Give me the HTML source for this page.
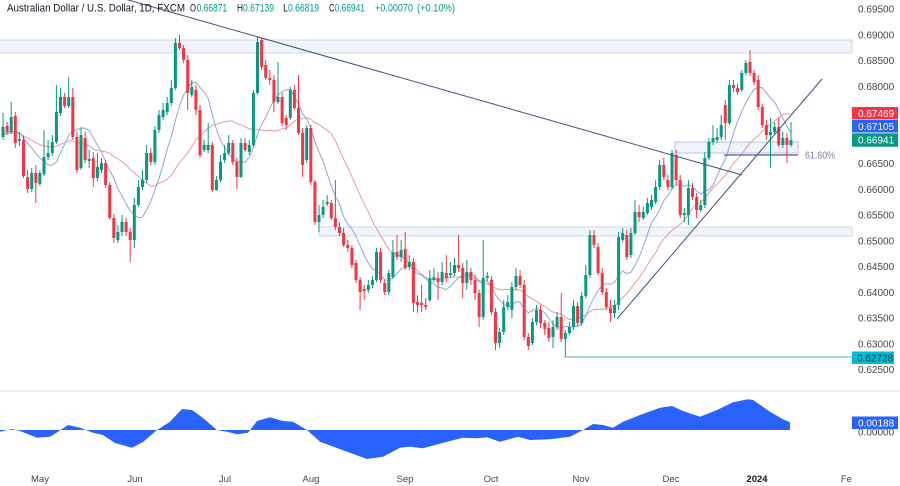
<!DOCTYPE html>
<html>
<head>
<meta charset="utf-8">
<style>
html,body{margin:0;padding:0;background:#fff;}
#wrap{position:relative;width:900px;height:486px;overflow:hidden;background:#fff;font-family:"Liberation Sans",sans-serif;}
svg{position:absolute;left:0;top:0;}
</style>
</head>
<body>
<div id="wrap">
<svg id="s" width="900" height="486" viewBox="0 0 900 486" xmlns="http://www.w3.org/2000/svg">
  <defs>
    <clipPath id="cp"><rect x="0" y="0" width="852" height="390"/></clipPath>
    <clipPath id="cpx"><rect x="0" y="392" width="852" height="94"/></clipPath>
  </defs>
  <g id="zones">
    <rect x="-1" y="40" width="853" height="13" fill="#f1f4fb" stroke="#cfd7e6" stroke-width="1"/>
    <rect x="319" y="227" width="533" height="9" fill="#f1f4fb" stroke="#cfd7e6" stroke-width="1"/>
    <rect x="675" y="142" width="123" height="11" fill="#eaf0fb" fill-opacity="0.8" stroke="#b9c6e2" stroke-width="1"/>
  </g>
  <g id="chart" clip-path="url(#cp)"></g>
  <g id="over" clip-path="url(#cp)">
    <line x1="125" y1="-1" x2="742" y2="175" stroke="#3f5384" stroke-width="1"/>
    <line x1="617" y1="319" x2="822" y2="79" stroke="#3f5384" stroke-width="1"/>
    <line x1="724" y1="155" x2="798" y2="155" stroke="#5b5598" stroke-width="1.2"/>
    <line x1="565" y1="357" x2="852" y2="357" stroke="#5ab5b8" stroke-width="1"/>
  </g>
  <text x="805" y="158.5" font-size="10" fill="#8576b3" font-family="Liberation Sans, sans-serif" textLength="30" lengthAdjust="spacingAndGlyphs">61.80%</text>
  <line x1="0" y1="391" x2="900" y2="391" stroke="#e0e3eb" stroke-width="1"/>
  <path id="osc" fill="#2962ff" d=""/>
  <g id="axis" font-family="Liberation Sans, sans-serif" font-size="10" fill="#434651"></g>
  <g id="labels" font-family="Liberation Sans, sans-serif" font-size="10">
    <text x="858" y="435.5" fill="#434651">0.00000</text>
    <rect x="852" y="107" width="46" height="12.5" fill="#f23645"/>
    <text x="858" y="117" fill="#fff">0.67469</text>
    <rect x="852" y="120" width="46" height="12.5" fill="#2962ff"/>
    <text x="858" y="130" fill="#fff">0.67105</text>
    <rect x="852" y="133.3" width="46" height="13.4" fill="#089981"/>
    <text x="858" y="143.5" fill="#fff">0.66941</text>
    <rect x="852" y="351.5" width="42" height="12.5" fill="#00bcd4"/>
    <text x="857" y="361.3" fill="#0d3b40">0.62728</text>
    <rect x="852" y="416.5" width="46" height="12.5" fill="#2962ff"/>
    <text x="858" y="426.3" fill="#fff">0.00188</text>
  </g>
  <g id="months" font-family="Liberation Sans, sans-serif" font-size="9.5" fill="#434651" text-anchor="middle" clip-path="url(#cpx)">
    <text x="40" y="482">May</text>
    <text x="135" y="482">Jun</text>
    <text x="225" y="482">Jul</text>
    <text x="311" y="482">Aug</text>
    <text x="405" y="482">Sep</text>
    <text x="491" y="482">Oct</text>
    <text x="581" y="482">Nov</text>
    <text x="671" y="482">Dec</text>
    <text x="757" y="482" font-weight="bold" fill="#131722">2024</text>
    <text x="849" y="482">Feb</text>
  </g>
  <g id="hdr" font-family="Liberation Sans, sans-serif" font-size="11" fill="#131722">
    <text x="7" y="11.7" textLength="178" lengthAdjust="spacingAndGlyphs">Australian Dollar / U.S. Dollar, 1D, FXCM</text>
    <text x="190" y="11.7" textLength="6" lengthAdjust="spacingAndGlyphs">O</text>
    <text x="196.7" y="11.7" fill="#089981" textLength="30.5" lengthAdjust="spacingAndGlyphs">0.66871</text>
    <text x="237" y="11.7" textLength="6" lengthAdjust="spacingAndGlyphs">H</text>
    <text x="243" y="11.7" fill="#089981" textLength="31" lengthAdjust="spacingAndGlyphs">0.67139</text>
    <text x="283" y="11.7" textLength="5" lengthAdjust="spacingAndGlyphs">L</text>
    <text x="288" y="11.7" fill="#089981" textLength="31" lengthAdjust="spacingAndGlyphs">0.66819</text>
    <text x="329" y="11.7" textLength="5.5" lengthAdjust="spacingAndGlyphs">C</text>
    <text x="334.5" y="11.7" fill="#089981" textLength="30.5" lengthAdjust="spacingAndGlyphs">0.66941</text>
    <text x="375" y="11.7" fill="#089981" textLength="38" lengthAdjust="spacingAndGlyphs">+0.00070</text>
    <text x="417" y="11.7" fill="#089981" textLength="38" lengthAdjust="spacingAndGlyphs">(+0.10%)</text>
  </g>
</svg>
</div>
<script>
(function(){
var NS="http://www.w3.org/2000/svg";
var D="g 127 137 113 140|r 126 132 122 135|g 117 132 102 134|r 116 143 112 148|g 139 141 132 146|r 140 176 136 178|r 177 189 170 193|g 173 189 168 192|r 173 183 165 203|g 173 184 170 186|"+
"g 157 174 130 176|g 153 157 140 160|g 142 153 135 156|g 112 142 85 144|g 97 113 88 116|r 97 106 93 108|g 97 106 77 108|r 97 137 88 140|r 137 170 132 173|g 135 168 128 170|"+
"r 138 160 132 163|g 159 161 150 168|r 158 178 152 187|g 167 178 153 181|g 163 170 158 173|r 163 185 160 188|r 185 218 182 220|r 218 238 214 243|g 232 240 225 243|g 222 232 215 236|"+
"r 222 232 218 236|r 232 240 228 262|g 205 240 198 248|g 187 205 180 207|g 180 187 170 190|g 153 180 145 183|r 153 162 148 165|g 130 162 126 165|g 115 130 110 133|g 110 117 103 120|"+
"g 103 112 97 115|g 88 103 80 106|g 43 88 38 90|r 43 48 35 50|r 48 60 45 63|r 60 93 55 110|g 87 95 80 97|r 90 110 85 115|r 110 155 105 158|g 145 150 140 152|"+
"g 145 150 123 153|r 145 190 142 192|g 180 190 176 191|g 162 180 155 182|g 153 160 145 163|g 143 153 135 155|r 143 162 140 165|r 162 177 158 189|g 143 177 138 178|r 143 150 138 152|"+
"g 145 152 140 155|g 93 145 90 147|g 42 93 37 95|r 40 67 38 70|r 65 78 60 80|r 78 80 70 85|r 80 102 75 112|g 97 102 62 104|r 97 123 93 126|r 118 125 115 130|"+
"g 90 118 87 120|r 90 108 85 110|r 108 133 75 135|r 133 165 128 177|g 128 160 125 163|r 128 182 125 185|r 182 222 180 225|g 215 222 205 232|g 207 215 200 218|g 202 204 195 206|"+
"r 203 218 200 220|r 218 227 180 230|r 227 233 222 236|r 233 245 228 247|r 245 248 240 252|r 248 265 245 268|r 263 280 260 283|r 280 292 277 310|r 289 291 285 300|g 285 290 280 293|"+
"g 280 285 276 288|g 252 280 248 282|r 252 280 248 283|r 283 292 280 295|g 273 292 270 295|g 252 277 240 279|r 252 257 235 260|g 250 257 240 262|r 249 268 232 270|g 262 267 255 270|"+
"r 262 303 258 312|r 302 305 295 313|r 303 305 285 312|r 305 307 298 310|g 278 300 270 302|g 277 280 268 282|r 278 282 272 300|g 272 282 262 285|r 273 278 255 282|g 273 275 262 278|"+
"g 265 273 258 276|r 265 268 235 272|r 268 283 263 298|g 272 283 260 290|r 272 280 268 285|r 280 293 275 300|r 293 317 290 327|g 278 317 240 320|g 276 278 272 281|r 280 312 276 315|"+
"r 312 343 308 350|g 332 343 328 348|g 307 332 300 335|g 302 307 295 310|g 287 310 282 318|g 276 287 268 290|r 276 285 270 288|r 285 337 280 340|r 337 346 333 350|g 322 343 318 345|"+
"g 310 322 305 325|r 310 323 305 328|r 323 329 320 335|r 328 338 322 342|g 327 337 320 348|g 317 327 312 330|r 317 339 293 342|g 333 339 330 357|g 327 333 322 335|g 306 327 300 330|"+
"r 306 323 302 326|g 296 323 292 326|g 275 296 265 298|g 235 275 230 278|r 235 245 230 248|r 247 273 243 275|r 273 292 268 295|r 292 307 288 310|r 308 313 300 322|g 305 313 300 318|"+
"g 237 305 232 310|g 233 240 228 242|r 235 257 230 260|g 233 255 228 258|g 212 233 200 235|r 212 217 205 222|g 212 218 207 220|g 203 213 198 215|g 200 207 195 210|g 187 202 180 204|"+
"g 165 187 160 190|r 165 177 158 180|r 180 187 175 190|g 153 187 150 190|r 155 180 150 185|r 180 215 175 218|g 213 215 208 222|g 188 215 180 225|r 188 197 183 200|r 197 210 193 218|"+
"g 205 210 200 212|g 158 205 152 208|g 142 158 138 160|g 138 142 125 145|g 137 140 128 143|g 125 137 115 140|r 105 123 100 140|g 85 123 80 125|r 85 88 80 92|r 88 92 84 95|"+
"g 73 90 70 92|g 63 73 60 75|r 62 73 50 76|r 73 82 70 85|r 80 107 75 110|r 107 125 104 128|r 125 135 120 140|g 132 135 118 168|g 127 132 122 135|r 127 145 118 147|"+
"g 138 145 132 148|r 138 145 133 163|g 140 145 122 147";
var rows=D.split("|").map(function(s){var a=s.split(" ");return {t:a[0],top:+a[1],bot:+a[2],hi:+a[3],lo:+a[4]};});
var N=rows.length;
var x0=3, dx=(791-3)/(N-1);
var g=document.getElementById("chart");
var closes=rows.map(function(r){return r.t==="g"?r.top:r.bot;});
function sma(n,pad){
  var arr=[];for(var i=0;i<n;i++)arr.push(pad);arr=arr.concat(closes);
  var out=[];
  for(var i=0;i<N;i++){var s=0;for(var k=0;k<n;k++)s+=arr[i+n-k];out.push(s/n);}
  return out;
}
function line(vals,color,w){
  var d="";
  for(var i=0;i<N;i++){d+=(i?"L":"M")+(x0+i*dx).toFixed(1)+" "+vals[i].toFixed(1);}
  var p=document.createElementNS(NS,"path");
  p.setAttribute("d",d);p.setAttribute("fill","none");p.setAttribute("stroke",color);p.setAttribute("stroke-width",w);
  g.appendChild(p);
}
line(sma(20,134),"#e49a9e",1);
line(sma(9,134),"#8ea6d8",1);
for(var i=0;i<N;i++){
  var r=rows[i],x=x0+i*dx,col=r.t==="g"?"#089981":"#f23645";
  var l=document.createElementNS(NS,"line");
  l.setAttribute("x1",x.toFixed(1));l.setAttribute("x2",x.toFixed(1));
  l.setAttribute("y1",Math.min(r.hi,r.top));l.setAttribute("y2",Math.max(r.lo,r.bot));
  l.setAttribute("stroke",col);l.setAttribute("stroke-width","1");
  g.appendChild(l);
  var b=document.createElementNS(NS,"rect");
  var h=Math.max(1,r.bot-r.top);
  b.setAttribute("x",(x-1.5).toFixed(1));b.setAttribute("y",r.top);
  b.setAttribute("width","3");b.setAttribute("height",h);b.setAttribute("fill",col);
  g.appendChild(b);
}
var ax=document.getElementById("axis");
for(var k=0;k<=14;k++){
  var p=(0.695-k*0.005).toFixed(5),y=9+k*25.75;
  var t=document.createElementNS(NS,"text");
  t.setAttribute("x","858");t.setAttribute("y",(y+3.5).toFixed(1));
  t.textContent=p;ax.appendChild(t);
}
var pts=[[0,431.7],[12,429],[20,431],[37,437.7],[50,436.7],[58,431.7],[68,425],[80,427.7],[93,432.7],[103,435],[115,443],[132,447.7],[143,442],[157,430],[170,421.7],[182,409],[192,410],[203,418],[217,430],[227,431.7],[237,434.3],[248,432.7],[257,421],[270,417.3],[283,421],[293,421.7],[307,430],[320,441.7],[347,451.7],[367,459],[383,456.7],[400,447.7],[410,446.7],[423,448.3],[450,441],[463,437.7],[477,438.3],[487,437.3],[500,441.7],[518,436.7],[530,440],[550,439.3],[570,436.7],[583,430],[593,424],[603,425],[613,427.7],[623,421.7],[640,415],[660,407.7],[672,406],[683,411],[700,416.7],[717,410],[733,402.3],[748,399.3],[753,400],[770,411.7],[783,419.3],[790,422.3]];
var d="M0 430";
pts.forEach(function(q){d+="L"+q[0]+" "+q[1];});
d+="L790 430Z";
document.getElementById("osc").setAttribute("d",d);
})();
</script>
</body>
</html>
